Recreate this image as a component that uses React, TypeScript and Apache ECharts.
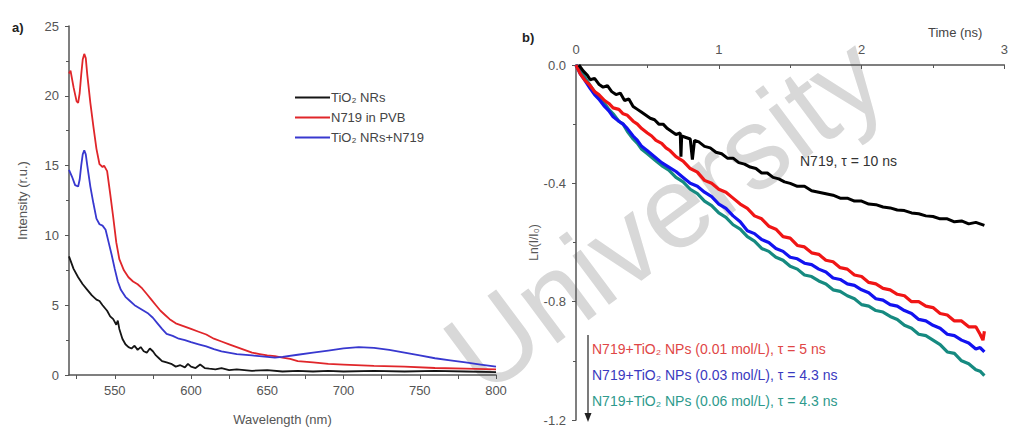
import React, { useEffect, useRef } from 'react';
import * as echarts from 'echarts';

const FONT = "'Liberation Sans', Arial, Helvetica, sans-serif";

// ---------- panel a) ----------
const wlLabelValues = [550, 600, 650, 700, 750, 800];
const wlTickValues = [525, 550, 575, 600, 625, 650, 675, 700, 725, 750, 775, 800];
const legendNames = ['TiO₂ NRs', 'N719 in PVB', 'TiO₂ NRs+N719'];

const tio2NRs: number[][] = [
  [520, 8.5], [523, 7.6], [526, 7.0], [529, 6.5], [532, 6.1], [535, 5.7], [538, 5.4], [540, 5.3],
  [542, 5.0], [545, 4.6], [547, 4.2], [549, 4.0], [551, 3.6], [552, 3.9], [553, 3.3], [555, 2.6],
  [557, 2.2], [559, 2.0], [561, 1.9], [563, 2.1], [565, 1.8], [567, 2.0], [569, 1.7], [571, 1.6],
  [573, 1.9], [575, 1.7], [577, 1.4], [579, 1.2], [581, 1.0], [584, 0.9], [587, 0.8], [590, 0.6],
  [593, 0.7], [596, 0.55], [598, 0.8], [600, 0.6], [603, 0.5], [606, 0.75], [609, 0.5], [612, 0.45],
  [616, 0.4], [620, 0.5], [625, 0.35], [630, 0.4], [640, 0.3], [650, 0.35], [660, 0.25], [670, 0.3],
  [680, 0.25], [690, 0.3], [700, 0.25], [720, 0.3], [740, 0.25], [760, 0.3], [780, 0.25], [800, 0.2],
];

const n719PVB: number[][] = [
  [520, 21.6], [521, 21.8], [523, 20.6], [525, 19.6], [526, 19.5], [527, 20.2], [528, 21.5], [529, 22.6],
  [530, 23.0], [531, 22.7], [532, 21.5], [534, 19.5], [536, 17.8], [538, 16.2], [540, 15.1], [542, 14.9],
  [543, 15.0], [545, 14.6], [547, 13.0], [549, 11.3], [551, 9.5], [553, 8.3], [556, 7.5], [559, 7.0],
  [562, 6.7], [565, 6.5], [568, 6.2], [571, 5.8], [574, 5.4], [577, 5.0], [580, 4.6], [583, 4.3],
  [586, 4.0], [590, 3.7], [595, 3.5], [600, 3.3], [605, 3.1], [610, 2.9], [615, 2.6], [620, 2.4],
  [625, 2.2], [630, 2.0], [635, 1.8], [640, 1.6], [645, 1.5], [650, 1.4], [655, 1.35], [660, 1.25],
  [665, 1.15], [670, 1.0], [680, 0.9], [690, 0.8], [700, 0.75], [720, 0.65], [740, 0.6], [760, 0.5],
  [780, 0.45], [800, 0.4],
];

const tio2N719: number[][] = [
  [520, 14.7], [522, 14.2], [524, 13.6], [526, 13.5], [527, 14.0], [528, 15.0], [529, 15.8], [530, 16.1],
  [531, 15.8], [532, 15.0], [534, 13.5], [536, 12.3], [538, 11.2], [540, 10.8], [542, 10.7], [544, 10.4],
  [546, 9.5], [548, 8.6], [550, 7.6], [552, 6.7], [554, 6.1], [557, 5.6], [560, 5.3], [563, 5.0],
  [566, 4.8], [569, 4.6], [572, 4.4], [575, 4.1], [578, 3.7], [581, 3.3], [584, 2.95], [588, 2.8],
  [592, 2.6], [596, 2.5], [600, 2.35], [605, 2.2], [610, 2.05], [615, 1.85], [620, 1.7], [630, 1.5],
  [640, 1.4], [650, 1.3], [655, 1.25], [660, 1.3], [670, 1.45], [680, 1.6], [690, 1.75], [700, 1.9],
  [710, 2.0], [720, 1.95], [730, 1.8], [740, 1.6], [750, 1.4], [760, 1.2], [770, 1.05], [780, 0.9],
  [790, 0.75], [800, 0.6],
];

// ---------- panel b) ----------
const n719Decay: number[][] = [
  [0.02, 0.0], [0.05, -0.02], [0.08, -0.035], [0.1, -0.05], [0.13, -0.045], [0.16, -0.065], [0.19, -0.075],
  [0.22, -0.07], [0.25, -0.09], [0.28, -0.1], [0.31, -0.095], [0.34, -0.12], [0.37, -0.115], [0.4, -0.14],
  [0.43, -0.15], [0.46, -0.16], [0.49, -0.17], [0.52, -0.18], [0.55, -0.185], [0.58, -0.2], [0.61, -0.2],
  [0.64, -0.215], [0.67, -0.225], [0.7, -0.235], [0.73, -0.23], [0.735, -0.31], [0.74, -0.24], [0.77, -0.245],
  [0.8, -0.25], [0.815, -0.32], [0.83, -0.255], [0.86, -0.26], [0.9, -0.275], [0.94, -0.28], [0.98, -0.295],
  [1.02, -0.3], [1.06, -0.315], [1.1, -0.315], [1.14, -0.33], [1.18, -0.335], [1.22, -0.345], [1.26, -0.35],
  [1.3, -0.365], [1.34, -0.365], [1.38, -0.38], [1.42, -0.385], [1.46, -0.395], [1.5, -0.4], [1.55, -0.41],
  [1.6, -0.41], [1.65, -0.425], [1.7, -0.43], [1.75, -0.435], [1.8, -0.44], [1.85, -0.45], [1.9, -0.45],
  [1.95, -0.46], [2.0, -0.46], [2.05, -0.47], [2.1, -0.472], [2.15, -0.48], [2.2, -0.483], [2.25, -0.49],
  [2.3, -0.492], [2.35, -0.5], [2.4, -0.503], [2.45, -0.51], [2.5, -0.512], [2.55, -0.52], [2.6, -0.52],
  [2.65, -0.53], [2.7, -0.527], [2.75, -0.537], [2.8, -0.532], [2.86, -0.542],
];

const np001: number[][] = [
  [0, 0], [0.03, -0.03], [0.06, -0.05], [0.1, -0.07], [0.13, -0.09], [0.16, -0.1], [0.2, -0.12],
  [0.23, -0.13], [0.26, -0.145], [0.3, -0.15], [0.33, -0.165], [0.36, -0.17], [0.4, -0.19], [0.43, -0.2],
  [0.46, -0.215], [0.5, -0.23], [0.53, -0.24], [0.56, -0.255], [0.6, -0.265], [0.63, -0.28], [0.66, -0.29],
  [0.7, -0.31], [0.75, -0.325], [0.8, -0.35], [0.85, -0.362], [0.9, -0.39], [0.95, -0.4], [1.0, -0.42],
  [1.05, -0.43], [1.1, -0.45], [1.15, -0.47], [1.2, -0.485], [1.25, -0.51], [1.3, -0.52], [1.35, -0.545],
  [1.4, -0.555], [1.45, -0.58], [1.5, -0.585], [1.55, -0.61], [1.6, -0.615], [1.65, -0.635], [1.7, -0.64],
  [1.75, -0.66], [1.8, -0.665], [1.85, -0.685], [1.9, -0.69], [1.95, -0.71], [2.0, -0.715], [2.05, -0.735],
  [2.1, -0.74], [2.15, -0.755], [2.2, -0.76], [2.25, -0.775], [2.3, -0.78], [2.35, -0.8], [2.4, -0.8],
  [2.45, -0.815], [2.5, -0.82], [2.55, -0.84], [2.6, -0.845], [2.65, -0.865], [2.7, -0.865], [2.75, -0.885],
  [2.8, -0.885], [2.83, -0.91], [2.85, -0.93], [2.86, -0.9],
];

const np003: number[][] = [
  [0, 0], [0.03, -0.03], [0.06, -0.05], [0.1, -0.08], [0.13, -0.1], [0.16, -0.115], [0.2, -0.14],
  [0.23, -0.155], [0.26, -0.175], [0.3, -0.19], [0.33, -0.2], [0.36, -0.215], [0.4, -0.24], [0.43, -0.255],
  [0.46, -0.275], [0.5, -0.29], [0.55, -0.31], [0.6, -0.33], [0.65, -0.345], [0.7, -0.36], [0.75, -0.38],
  [0.8, -0.4], [0.85, -0.41], [0.9, -0.43], [0.95, -0.445], [1.0, -0.47], [1.05, -0.485], [1.1, -0.51],
  [1.15, -0.53], [1.2, -0.56], [1.25, -0.57], [1.3, -0.59], [1.35, -0.6], [1.4, -0.62], [1.45, -0.63],
  [1.5, -0.65], [1.55, -0.655], [1.6, -0.67], [1.65, -0.675], [1.7, -0.69], [1.75, -0.7], [1.8, -0.72],
  [1.85, -0.725], [1.9, -0.74], [1.95, -0.745], [2.0, -0.76], [2.05, -0.77], [2.1, -0.79], [2.15, -0.795],
  [2.2, -0.81], [2.25, -0.815], [2.3, -0.83], [2.35, -0.84], [2.4, -0.86], [2.45, -0.865], [2.5, -0.88],
  [2.55, -0.89], [2.6, -0.91], [2.65, -0.915], [2.7, -0.93], [2.75, -0.94], [2.8, -0.96], [2.83, -0.955], [2.86, -0.97],
];

const np006: number[][] = [
  [0, 0], [0.03, -0.02], [0.06, -0.04], [0.1, -0.07], [0.13, -0.09], [0.16, -0.11], [0.2, -0.13],
  [0.23, -0.15], [0.26, -0.165], [0.3, -0.19], [0.33, -0.2], [0.36, -0.225], [0.4, -0.25], [0.43, -0.265],
  [0.46, -0.285], [0.5, -0.3], [0.55, -0.32], [0.6, -0.34], [0.65, -0.355], [0.7, -0.38], [0.75, -0.395],
  [0.8, -0.42], [0.85, -0.435], [0.9, -0.46], [0.95, -0.475], [1.0, -0.5], [1.05, -0.515], [1.1, -0.54],
  [1.15, -0.555], [1.2, -0.58], [1.25, -0.595], [1.3, -0.62], [1.35, -0.63], [1.4, -0.65], [1.45, -0.66],
  [1.5, -0.68], [1.55, -0.69], [1.6, -0.71], [1.65, -0.715], [1.7, -0.73], [1.75, -0.74], [1.8, -0.76],
  [1.85, -0.765], [1.9, -0.78], [1.95, -0.79], [2.0, -0.81], [2.05, -0.815], [2.1, -0.83], [2.15, -0.835],
  [2.2, -0.85], [2.25, -0.86], [2.3, -0.88], [2.35, -0.89], [2.4, -0.91], [2.45, -0.915], [2.5, -0.93],
  [2.55, -0.945], [2.6, -0.97], [2.65, -0.975], [2.7, -1.0], [2.75, -1.01], [2.8, -1.03], [2.83, -1.035], [2.86, -1.05],
];

const decayLabels = [
  'N719, τ = 10 ns',
  'N719+TiO₂ NPs (0.01 mol/L), τ = 5 ns',
  'N719+TiO₂ NPs (0.03 mol/L), τ = 4.3 ns',
  'N719+TiO₂ NPs (0.06 mol/L), τ = 4.3 ns',
];

const AX = '#555';
const LBL = '#555';

export default function App() {
  const ref = useRef<HTMLDivElement>(null);
  useEffect(() => {
    if (!ref.current) return;
    const chart = echarts.init(ref.current, undefined, { renderer: 'svg' });
    const axisLine = { show: true, lineStyle: { color: AX, width: 1.5 } };
    const option: any = {
      animation: false,
      backgroundColor: '#fff',
      textStyle: { fontFamily: FONT },
      legend: {
        data: legendNames,
        orient: 'vertical',
        left: 290,
        top: 86,
        itemWidth: 35,
        itemHeight: 2,
        itemGap: 7,
        icon: 'rect',
        textStyle: { fontFamily: FONT, fontSize: 13, color: '#444', padding: [0, 0, 0, -4] },
      },
      grid: [
        { left: 69, top: 26, width: 427, height: 349, containLabel: false },
        { left: 576, top: 65, width: 432, height: 355, containLabel: false },
      ],
      xAxis: [
        {
          gridIndex: 0, type: 'value', min: 520, max: 800,
          name: 'Wavelength (nm)', nameLocation: 'middle', nameGap: 38,
          nameTextStyle: { fontSize: 13, color: LBL, fontFamily: FONT },
          axisLine,
          axisTick: { show: true, length: 4, customValues: wlTickValues, lineStyle: { color: AX } },
          axisLabel: { customValues: wlLabelValues, fontSize: 13, color: LBL, margin: 9, fontFamily: FONT },
          splitLine: { show: false },
        },
        {
          gridIndex: 1, type: 'value', min: 0, max: 3, interval: 1, position: 'top',
          axisLine,
          axisTick: { show: true, inside: true, length: 4, lineStyle: { color: AX } },
          minorTick: { show: true, splitNumber: 2, length: 3, lineStyle: { color: AX } },
          axisLabel: { fontSize: 13, color: LBL, margin: 9, fontFamily: FONT, showMaxLabel: true },
          splitLine: { show: false },
        },
      ],
      yAxis: [
        {
          gridIndex: 0, type: 'value', min: 0, max: 25, interval: 5,
          name: 'Intensity (r.u.)', nameLocation: 'middle', nameGap: 40,
          nameTextStyle: { fontSize: 13, color: LBL, fontFamily: FONT },
          axisLine,
          axisTick: { show: true, length: 4, lineStyle: { color: AX } },
          minorTick: { show: true, splitNumber: 2, length: 3, lineStyle: { color: AX } },
          axisLabel: { fontSize: 13, color: LBL, margin: 10, fontFamily: FONT },
          splitLine: { show: false },
        },
        {
          gridIndex: 1, type: 'value', min: -1.2, max: 0, interval: 0.4,
          name: 'Ln(I/I₀)', nameLocation: 'middle', nameGap: 32,
          nameTextStyle: { fontSize: 12, color: LBL, fontFamily: FONT },
          axisLine,
          axisTick: { show: true, length: 4, lineStyle: { color: AX } },
          minorTick: { show: true, splitNumber: 2, length: 3, lineStyle: { color: AX } },
          axisLabel: { fontSize: 13, color: LBL, margin: 10, fontFamily: FONT, formatter: (v: number) => v.toFixed(1) },
          splitLine: { show: false },
        },
      ],
      series: [
        { name: legendNames[0], type: 'line', xAxisIndex: 0, yAxisIndex: 0, data: tio2NRs, showSymbol: false, lineStyle: { color: '#151515', width: 1.8 }, itemStyle: { color: '#151515' }, z: 4 },
        { name: legendNames[1], type: 'line', xAxisIndex: 0, yAxisIndex: 0, data: n719PVB, showSymbol: false, lineStyle: { color: '#e0262a', width: 1.8 }, itemStyle: { color: '#e0262a' }, z: 3 },
        { name: legendNames[2], type: 'line', xAxisIndex: 0, yAxisIndex: 0, data: tio2N719, showSymbol: false, lineStyle: { color: '#3838cf', width: 1.8 }, itemStyle: { color: '#3838cf' }, z: 3 },
        { name: 'np006', type: 'line', xAxisIndex: 1, yAxisIndex: 1, data: np006, showSymbol: false, lineStyle: { color: '#168a80', width: 3.2 }, z: 2 },
        { name: 'np003', type: 'line', xAxisIndex: 1, yAxisIndex: 1, data: np003, showSymbol: false, lineStyle: { color: '#1212f0', width: 3.2 }, z: 3 },
        { name: 'np001', type: 'line', xAxisIndex: 1, yAxisIndex: 1, data: np001, showSymbol: false, lineStyle: { color: '#f01515', width: 3.2 }, z: 4 },
        { name: 'n719', type: 'line', xAxisIndex: 1, yAxisIndex: 1, data: n719Decay, showSymbol: false, lineStyle: { color: '#000', width: 3 }, z: 5 },
      ],
      graphic: [
        {
          type: 'text', x: 664, y: 214, rotation: 0.64, z: -10, silent: true,
          style: { text: 'University', fontSize: 116, fontFamily: FONT, fill: '#d8d8d8', align: 'center', verticalAlign: 'middle' },
        },
        { type: 'line', z: 10, shape: { x1: 588, y1: 335, x2: 588, y2: 414 }, style: { stroke: '#222', lineWidth: 1.2 } },
        { type: 'polygon', z: 10, shape: { points: [[584.5, 413], [591.5, 413], [588, 422]] }, style: { fill: '#222' } },
        { type: 'text', x: 12, y: 27, style: { text: 'a)', fontSize: 13, fontWeight: 'bold', fill: '#222', fontFamily: FONT, verticalAlign: 'middle' } },
        { type: 'text', x: 522, y: 37, style: { text: 'b)', fontSize: 13, fontWeight: 'bold', fill: '#222', fontFamily: FONT, verticalAlign: 'middle' } },
        { type: 'text', x: 928, y: 32, style: { text: 'Time (ns)', fontSize: 13, fill: '#444', fontFamily: FONT, verticalAlign: 'middle' } },
        { type: 'text', x: 800, y: 161, z: 10, style: { text: decayLabels[0], fontSize: 14, fill: '#333', fontFamily: FONT, verticalAlign: 'middle' } },
        { type: 'text', x: 592, y: 349, z: 10, style: { text: decayLabels[1], fontSize: 14, fill: '#e04646', fontFamily: FONT, verticalAlign: 'middle' } },
        { type: 'text', x: 592, y: 375, z: 10, style: { text: decayLabels[2], fontSize: 14, fill: '#3a3ac0', fontFamily: FONT, verticalAlign: 'middle' } },
        { type: 'text', x: 592, y: 401, z: 10, style: { text: decayLabels[3], fontSize: 14, fill: '#2e9a8c', fontFamily: FONT, verticalAlign: 'middle' } },
      ],
    };
    chart.setOption(option);
    return () => chart.dispose();
  }, []);
  return (
    <div
      ref={ref}
      style={{ position: 'fixed', left: 0, top: 0, width: 1011, height: 432, background: '#fff' }}
    />
  );
}
